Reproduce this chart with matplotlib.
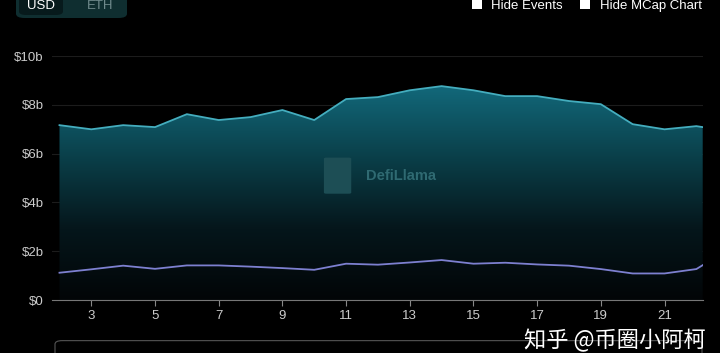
import matplotlib.pyplot as plt
import numpy as np
from matplotlib.patches import FancyBboxPatch, Rectangle
from matplotlib.colors import LinearSegmentedColormap

plt.rcParams['font.family'] = ['Liberation Sans', 'DejaVu Sans', 'Noto Sans CJK SC']

# Data (values in $b)
days = [2, 3, 4, 5, 6, 7, 8, 9, 10, 11, 12, 13, 14, 15, 16, 17, 18, 19, 20, 21, 22, 22.2]
tvl = [7.17, 7.0, 7.17, 7.09, 7.62, 7.38, 7.5, 7.79, 7.38, 8.24, 8.32, 8.6, 8.77, 8.6,
       8.36, 8.36, 8.16, 8.03, 7.21, 7.0, 7.13, 7.09]
mcap = [1.12, 1.26, 1.41, 1.28, 1.42, 1.42, 1.37, 1.31, 1.24, 1.49, 1.45, 1.54, 1.64, 1.49,
        1.53, 1.46, 1.41, 1.27, 1.09, 1.09, 1.27, 1.43]
xticks = [3, 5, 7, 9, 11, 13, 15, 17, 19, 21]
yticks = [0, 2, 4, 6, 8, 10]
ylabels = ['$0', '$2b', '$4b', '$6b', '$8b', '$10b']

fig = plt.figure(figsize=(7.2, 3.53), dpi=100, facecolor='black')
ax = fig.add_axes([0.072, 0.150, 0.904, 0.691], facecolor='black')

# gradient fill under the TVL line
poly = ax.fill_between(days, tvl, 0, color='none')
cmap = LinearSegmentedColormap.from_list('tvl', ['#020507', '#05161b', '#0a3f49', '#12687a'])
grad = np.linspace(0, 1, 256).reshape(-1, 1)
img = ax.imshow(grad, cmap=cmap, aspect='auto', origin='lower',
                extent=[days[0], days[-1], 0, max(tvl)], zorder=1)
img.set_clip_path(poly.get_paths()[0], transform=ax.transData)
ax.set_xlim(1.76, 22.2)
ax.set_ylim(0, 10)

ax.plot(days, tvl, color='#44adbe', lw=1.3, zorder=3)
ax.plot(days, mcap, color='#7d80d0', lw=1.3, zorder=3)

for y in yticks[1:]:
    ax.axhline(y, color='#1c1c1c', lw=0.8, zorder=0.5)

for s in ['top', 'right', 'left']:
    ax.spines[s].set_visible(False)
ax.spines['bottom'].set_color('#777777')
ax.spines['bottom'].set_linewidth(0.8)
ax.set_xticks(xticks)
ax.set_xticklabels([str(t) for t in xticks])
ax.set_yticks(yticks)
ax.set_yticklabels(ylabels)
ax.tick_params(axis='x', colors='#cccccc', labelsize=9.5, length=4, width=0.8, pad=3)
ax.tick_params(axis='x', color='#888888')
ax.tick_params(axis='y', colors='#cccccc', labelsize=9.5, length=0, pad=6)

# watermark
ax.text(0.482, 0.51, 'DefiLlama', transform=ax.transAxes, color='#2f6a72',
        fontsize=10.5, fontweight='bold', ha='left', va='center', zorder=4)
ax.add_patch(FancyBboxPatch((0.422, 0.44), 0.034, 0.14, boxstyle='round,pad=0.004',
                            transform=ax.transAxes, facecolor='#1d4e55', edgecolor='none', zorder=4))

# header controls
fig.patches.append(FancyBboxPatch((16 / 720, 1 - 18 / 353), 111 / 720, 0.08,
                                  boxstyle='round,pad=0,rounding_size=0.012',
                                  transform=fig.transFigure, facecolor='#0f2e30', edgecolor='none'))
fig.patches.append(FancyBboxPatch((19 / 720, 1 - 15 / 353), 44 / 720, 0.07,
                                  boxstyle='round,pad=0,rounding_size=0.01',
                                  transform=fig.transFigure, facecolor='#071a1c', edgecolor='none'))
fig.text(41 / 720, 1 - 6 / 353, 'USD', color='white', fontsize=9.5, ha='center', va='center')
fig.text(100 / 720, 1 - 6 / 353, 'ETH', color='#6f8a8c', fontsize=9.5, ha='center', va='center')

fig.patches.append(Rectangle((472 / 720, 1 - 9 / 353), 10 / 720, 10 / 353,
                             transform=fig.transFigure, facecolor='white', edgecolor='none'))
fig.text(491 / 720, 1 - 6 / 353, 'Hide Events', color='white', fontsize=9.5, ha='left', va='center')
fig.patches.append(Rectangle((580 / 720, 1 - 9 / 353), 10 / 720, 10 / 353,
                             transform=fig.transFigure, facecolor='white', edgecolor='none'))
fig.text(600 / 720, 1 - 6 / 353, 'Hide MCap Chart', color='white', fontsize=9.5, ha='left', va='center')

# bottom panel and watermark
fig.patches.append(FancyBboxPatch((55 / 720, -0.05), 647 / 720, 0.085,
                                  boxstyle='round,pad=0,rounding_size=0.01',
                                  transform=fig.transFigure, facecolor='black',
                                  edgecolor='#555555', lw=0.8))
fig.text(524 / 720, 1 - 352 / 353, '知乎 @币圈小阿柯', color='white', fontsize=16,
         family=['Noto Sans CJK SC', 'DejaVu Sans'], ha='left', va='bottom')

fig.savefig('out.png', dpi=100, facecolor='black')
